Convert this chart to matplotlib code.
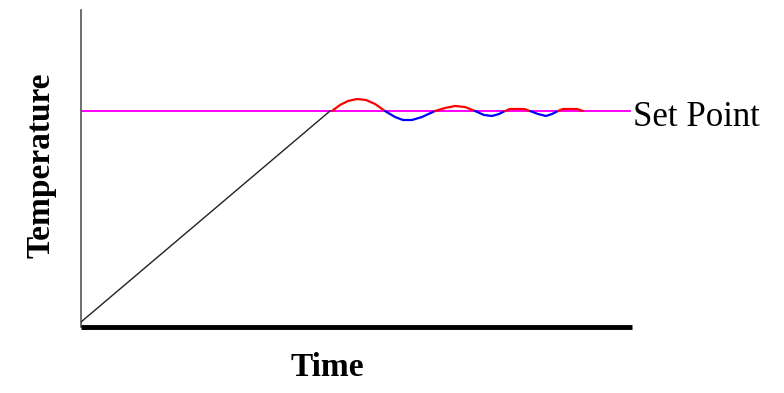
import matplotlib
matplotlib.use("Agg")
import matplotlib.pyplot as plt

# Data in units: time (pixels from the axis origin), temperature (arbitrary units)
set_point = 216
set_point_end = 549
ramp_t = [0, 249]
ramp_temp = [5, 216]

# Oscillation half-cycles around the set point (red = above, blue = below)
halves = [
    ("red",  [251, 259, 267, 276, 285, 294, 304], [216, 222, 226, 228, 227, 223, 216]),
    ("blue", [304, 314, 322, 331, 341, 354],      [216, 210, 207, 207, 210, 216]),
    ("red",  [354, 364, 374, 384, 394],           [216, 219, 221, 220, 216]),
    ("blue", [394, 403, 411, 418, 424],           [216, 212, 211, 213, 216]),
    ("red",  [424, 429, 436, 443, 449],           [216, 218, 218, 218, 216]),
    ("blue", [449, 457, 465, 471, 477],           [216, 213, 211, 213, 216]),
    ("red",  [477, 482, 489, 496, 502],           [216, 218, 218, 218, 216]),
]

fig = plt.figure(figsize=(7.84, 3.93), dpi=100)
W, H = 784, 393
ax = fig.add_axes([81 / W, (H - 327) / H, (632 - 81) / W, (327 - 10) / H])
ax.set_xlim(0, 551)
ax.set_ylim(0, 317)
for s in ["top", "right"]:
    ax.spines[s].set_visible(False)
ax.spines["left"].set_color("#555555")
ax.spines["left"].set_linewidth(1.2)
ax.spines["bottom"].set_color("black")
ax.spines["bottom"].set_linewidth(3.5)
ax.spines["bottom"].set_capstyle("butt")
ax.set_xticks([])
ax.set_yticks([])

ax.plot([0, set_point_end], [set_point, set_point], color="#ff00ff", lw=1.4, zorder=2)
ax.plot(ramp_t, ramp_temp, color="#222222", lw=1.0, zorder=3)
for col, t, v in halves:
    ax.plot(t, v, color="#ff0000" if col == "red" else "#0000ff", lw=1.6,
            solid_capstyle="round", zorder=4)

ax.text(552, set_point - 7, "Set Point", fontsize=25, family="Liberation Serif",
        ha="left", va="center", clip_on=False)

fig.text(327 / W, 1 - 368 / H, "Time", fontsize=24, family="Liberation Serif",
         fontweight="bold", ha="center", va="center")
fig.text(41 / W, 1 - 165 / H, "Temperature", fontsize=24, family="Liberation Serif",
         fontweight="bold", ha="center", va="center", rotation=90)

fig.savefig("out.png", dpi=100)
